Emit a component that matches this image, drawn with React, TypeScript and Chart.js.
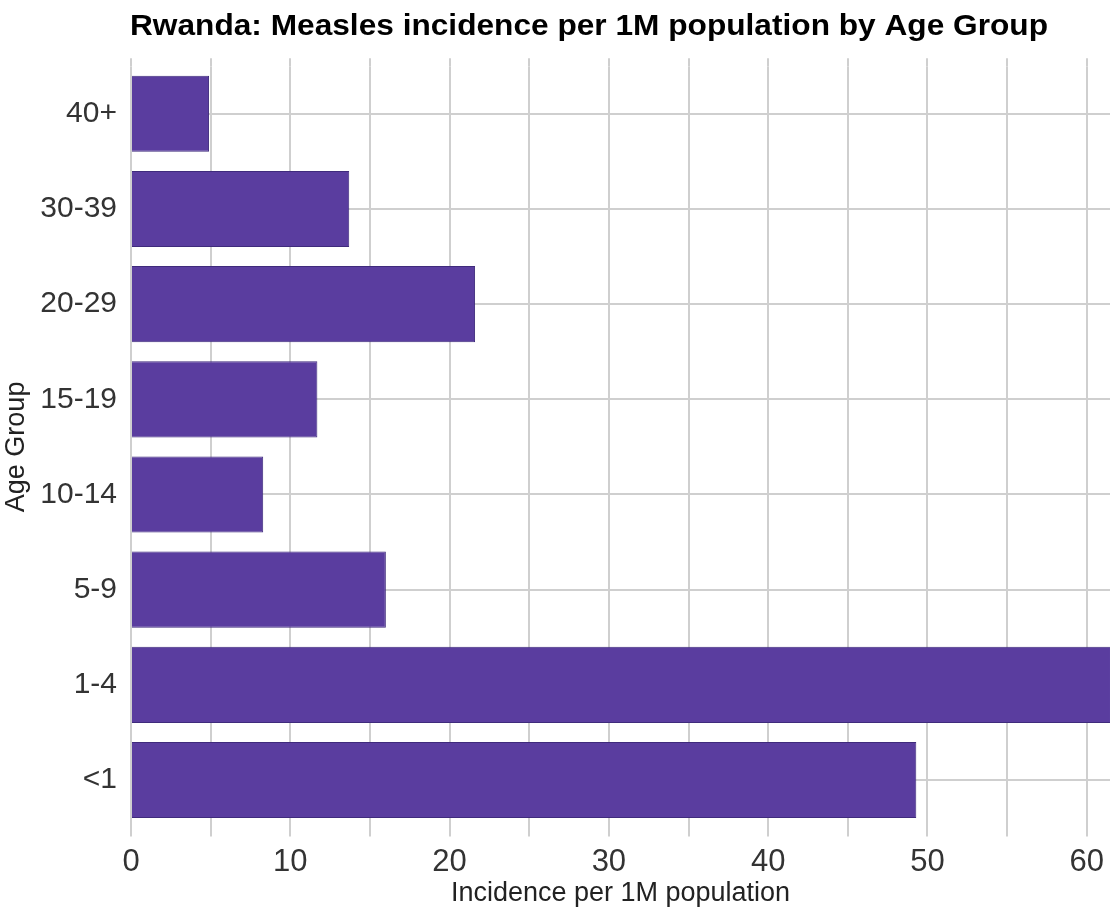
import React, { useEffect, useRef } from "react";
import { Chart, registerables } from "chart.js";

Chart.register(...registerables);

const TITLE = "Rwanda: Measles incidence per 1M population by Age Group";
const ageGroups = ["40+", "30-39", "20-29", "15-19", "10-14", "5-9", "1-4", "<1"];
const incidence = [4.9, 13.7, 21.6, 11.7, 8.3, 16.0, 65.0, 49.3];
const xTitle = "Incidence per 1M population";
const yTitle = "Age Group";
const xMax = 61.46;
const xStep = 5;

const FONT = "'Liberation Sans', Arial, Helvetica, sans-serif";
const GRID = "#cfcfcf";

const titlePlugin = {
  id: "customTitle",
  afterDraw(chart: any) {
    const ctx = chart.ctx;
    ctx.save();
    ctx.font = `bold 28px ${FONT}`;
    ctx.fillStyle = "#000000";
    ctx.textAlign = "center";
    ctx.textBaseline = "middle";
    const w = ctx.measureText(TITLE).width;
    const sx = 918 / w;
    ctx.translate(589, 27);
    ctx.scale(sx, 1.05);
    ctx.fillText(TITLE, 0, 0);
    ctx.restore();
  },
};

export default function App() {
  const ref = useRef<HTMLCanvasElement>(null);
  useEffect(() => {
    if (!ref.current) return;
    const chart = new Chart(ref.current, {
      type: "bar",
      data: {
        labels: ageGroups,
        datasets: [
          {
            data: incidence,
            backgroundColor: "#5a3d9f",
            borderColor: "#3f2b7c",
            borderWidth: 1,
            barPercentage: 0.8,
            categoryPercentage: 1,
          },
        ],
      },
      options: {
        indexAxis: "y",
        animation: false,
        responsive: false,
        maintainAspectRatio: false,
        layout: { padding: { top: 58, left: 0, right: 0, bottom: 0 } },
        plugins: {
          legend: { display: false },
          title: { display: false },
          tooltip: { enabled: false },
        },
        scales: {
          x: {
            type: "linear",
            position: "bottom",
            min: 0,
            max: xMax,
            afterFit: (s: any) => {
              s.height = 82.4;
            },
            ticks: {
              stepSize: xStep,
              includeBounds: false,
              maxRotation: 0,
              autoSkip: false,
              padding: 7,
              color: "#333333",
              font: { size: 31, family: FONT },
              callback: (v: any) => (Number(v) % 10 === 0 ? String(v) : ""),
            },
            grid: { color: GRID, lineWidth: 2, tickLength: 9, drawTicks: true },
            border: { display: false },
            title: {
              display: true,
              text: xTitle,
              color: "#222222",
              font: { size: 27, family: FONT },
              padding: { top: 0, bottom: 0 },
            },
          },
          x2: {
            type: "linear",
            position: "top",
            min: 0,
            max: xMax,
            afterFit: (s: any) => {
              s.height = 8.2;
            },
            ticks: { stepSize: xStep, includeBounds: false, display: false },
            grid: { color: GRID, lineWidth: 2, tickLength: 8, drawOnChartArea: false, drawTicks: true },
            border: { display: false },
          },
          y: {
            type: "category",
            offset: true,
            afterFit: (s: any) => {
              s.width = 131;
            },
            ticks: {
              padding: 14,
              color: "#333333",
              font: { size: 30, family: FONT },
            },
            grid: { color: GRID, lineWidth: 2, offset: false, drawTicks: false },
            border: { display: false },
            title: {
              display: true,
              text: yTitle,
              color: "#222222",
              font: { size: 27, family: FONT },
              padding: 0,
            },
          },
        },
      } as any,
      plugins: [titlePlugin],
    });
    return () => chart.destroy();
  }, []);
  return (
    <div style={{ position: "fixed", left: 0, top: 0, width: 1111, height: 910, background: "#ffffff" }}>
      <canvas ref={ref} width={1111} height={910} />
    </div>
  );
}
